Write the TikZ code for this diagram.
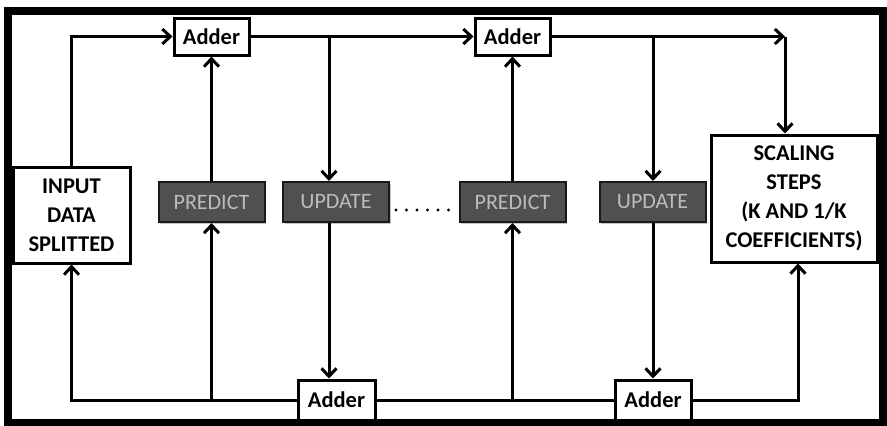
\documentclass[tikz,border=0pt]{standalone}
\usepackage{fontspec}
\setmainfont{Carlito}
\usetikzlibrary{arrows.meta,shadows}
\definecolor{blockfill}{RGB}{80,80,80}
\definecolor{blocktext}{RGB}{188,188,188}
\tikzset{
  whitebox/.style={draw=black, line width=3pt, fill=white, inner sep=0pt,
    align=center, font=\fontsize{22.5}{29}\selectfont\bfseries},
  adderbox/.style={whitebox, minimum width=75pt, minimum height=37pt},
  stagebox/.style={draw=black!90, line width=2pt, fill=blockfill, inner sep=0pt,
    minimum width=106pt, minimum height=40pt, text=blocktext,
    font=\fontsize{22}{26}\selectfont,
    drop shadow={shadow xshift=1.5pt, shadow yshift=-2pt, opacity=0.45}},
  link/.style={line width=3pt, line join=miter},
  arr/.style={link, -{Straight Barb[length=8pt,width=15pt,line width=3pt]}}
}
\begin{document}
\begin{tikzpicture}[x=1pt,y=-1pt]
\useasboundingbox (0,0) rectangle (887,426);
\fill[white] (0,0) rectangle (887,426);
% outer frame
\draw[line width=8pt] (7.5,10.5) rectangle (883,423);

% blocks
\node[whitebox, minimum width=117pt, minimum height=96pt] (input) at (71.5,215)
  {INPUT\\DATA\\SPLITTED};
\node[whitebox, minimum width=166pt, minimum height=127pt] (scaling) at (794,198.5)
  {SCALING\\STEPS\\(K AND 1/K\\COEFFICIENTS)};
\node[adderbox] (adder1) at (211.5,36.5) {Adder};
\node[adderbox] (adder2) at (512.5,36.5) {Adder};
\node[adderbox, minimum width=77pt, minimum height=40pt] (adder3) at (336.5,400) {Adder};
\node[adderbox, minimum width=76pt, minimum height=40pt] (adder4) at (653,400) {Adder};
\node[stagebox] (predict1) at (211.5,202) {PREDICT};
\node[stagebox] (update1) at (336,202) {UPDATE};
\node[stagebox] (predict2) at (512.5,202) {PREDICT};
\node[stagebox] (update2) at (652.5,202) {UPDATE};

% ellipsis between the stages
\foreach \i in {0,...,5} \fill (396+10.5*\i,210) circle (1.6);

% branch points
\coordinate (b1) at (329,36.5);
\coordinate (b2) at (653,36.5);
\coordinate (tr) at (785,36.5);
\coordinate (br) at (798,400);

% upper path
\draw[arr] (input.north) |- (adder1.west);
\draw[arr] (adder1.east) -- (adder2.west);
\draw[arr] (b1) -- (b1 |- update1.north);
\draw[arr] (adder2.east) -- (tr);
\draw[arr] (tr) -- (tr |- scaling.north);
\draw[arr] (b2) -- (b2 |- update2.north);
\draw[arr] (predict1.north) -- (adder1.south);
\draw[arr] (predict2.north) -- (adder2.south);

% lower path
\draw[arr] (b1 |- update1.south) -- (b1 |- adder3.north);
\draw[arr] (update2.south -| b2) -- (b2 |- adder4.north);
\draw[arr] (adder3.west) -| (input.south);
\draw[link] (adder4.west) -- (adder3.east);
\draw[arr] (adder4.east) -- (br) -- (br |- scaling.south);
\draw[arr] (predict1 |- adder3) -- (predict1.south);
\draw[arr] (predict2 |- adder4) -- (predict2.south);
\end{tikzpicture}
\end{document}
